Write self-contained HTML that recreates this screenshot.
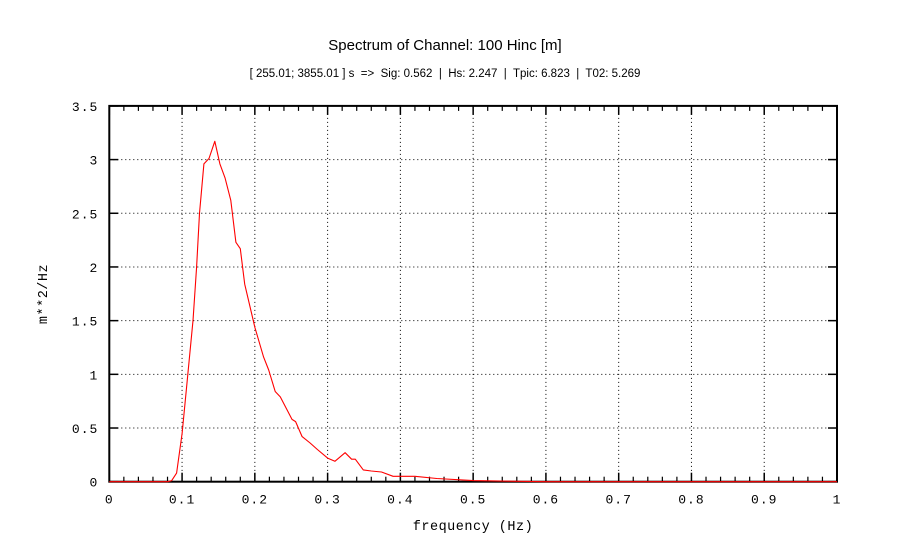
<!DOCTYPE html>
<html><head><meta charset="utf-8"><style>
body{margin:0;background:#fff;}
svg text{font-family:"Liberation Mono",monospace;}
</style></head><body>
<svg id="chart" width="905" height="536" xmlns="http://www.w3.org/2000/svg">
<text x="445" y="50" text-anchor="middle" style="font-family:'Liberation Sans',sans-serif;font-size:15px">Spectrum of Channel: 100 Hinc [m]</text>
<text x="445" y="77" text-anchor="middle" style="font-family:'Liberation Sans',sans-serif;font-size:11.5px" xml:space="preserve">[ 255.01; 3855.01 ] s  =&gt;  Sig: 0.562  |  Hs: 2.247  |  Tpic: 6.823  |  T02: 5.269</text>
<g id="grid"></g><g id="axes"></g><g id="series"></g>
<text x="473" y="530" text-anchor="middle" font-size="13.5" letter-spacing="0.5">frequency (Hz)</text>
<text x="0" y="0" text-anchor="middle" font-size="13.5" letter-spacing="0.5" transform="translate(47,294) rotate(-90)">m**2/Hz</text>
</svg>
<script>
const xTicks=[0,0.1,0.2,0.3,0.4,0.5,0.6,0.7,0.8,0.9,1];
const xTickLabels=["0","0.1","0.2","0.3","0.4","0.5","0.6","0.7","0.8","0.9","1"];
const yTicks=[0,0.5,1,1.5,2,2.5,3,3.5];
const yTickLabels=["0","0.5","1","1.5","2","2.5","3","3.5"];
const freq=[0,0.05,0.08,0.0857,0.0925,0.1,0.107,0.115,0.12,0.124,0.13,0.137,0.145,0.152,0.159,0.167,0.174,0.18,0.186,0.2,0.212,0.219,0.228,0.235,0.251,0.256,0.265,0.276,0.286,0.3,0.31,0.324,0.333,0.338,0.349,0.36,0.374,0.39,0.4,0.42,0.45,0.5,0.55,0.6,0.8,1.0];
const power=[0,0,0,0.01,0.08,0.45,0.94,1.5,2.0,2.5,2.96,3.01,3.17,2.96,2.83,2.62,2.23,2.17,1.84,1.44,1.16,1.04,0.84,0.79,0.58,0.56,0.42,0.36,0.30,0.22,0.19,0.27,0.21,0.21,0.11,0.10,0.09,0.05,0.05,0.05,0.03,0.01,0.005,0,0,0];
const L=109.3,R=837,T=105.9,B=481.7,YMAX=3.5;
const sx=v=>L+(R-L)*v, sy=v=>B-(B-T)*v/YMAX;
const NS="http://www.w3.org/2000/svg";
function mk(tag,attrs,parent){const e=document.createElementNS(NS,tag);for(const k in attrs)e.setAttribute(k,attrs[k]);parent.appendChild(e);return e;}
const grid=document.getElementById('grid'),axes=document.getElementById('axes'),series=document.getElementById('series');
xTicks.forEach((t,i)=>{
  if(i>0&&i<xTicks.length-1){const g=mk('line',{x1:sx(t),x2:sx(t),y1:T,y2:B,stroke:'#000','stroke-width':1,'stroke-dasharray':'1,3'},grid);
  
  }
  mk('line',{x1:sx(t),x2:sx(t),y1:B,y2:B-9,stroke:'#000','stroke-width':1.5},axes);
  mk('line',{x1:sx(t),x2:sx(t),y1:T,y2:T+9,stroke:'#000','stroke-width':1.5},axes);
  const lb=mk('text',{x:sx(t),y:B+22,'text-anchor':'middle','font-size':13,'letter-spacing':1},axes);
  lb.textContent=xTickLabels[i];
  
  
});
for(let v=0.02;v<1;v+=0.02){if(Math.abs(v*10-Math.round(v*10))<1e-6)continue;
  mk('line',{x1:sx(v),x2:sx(v),y1:B,y2:B-5,stroke:'#000','stroke-width':1.2},axes);
  mk('line',{x1:sx(v),x2:sx(v),y1:T,y2:T+5,stroke:'#000','stroke-width':1.2},axes);}
yTicks.forEach((t,i)=>{
  if(i>0&&i<yTicks.length-1){const g=mk('line',{x1:L,x2:R,y1:sy(t),y2:sy(t),stroke:'#000','stroke-width':1,'stroke-dasharray':'1,3'},grid);
  
  }
  mk('line',{x1:L,x2:L+9,y1:sy(t),y2:sy(t),stroke:'#000','stroke-width':1.5},axes);
  mk('line',{x1:R,x2:R-9,y1:sy(t),y2:sy(t),stroke:'#000','stroke-width':1.5},axes);
  const lb=mk('text',{x:L-11,y:sy(t)+5,'text-anchor':'end','font-size':13,'letter-spacing':1},axes);
  lb.textContent=yTickLabels[i];
  
  
});
const fr=mk('rect',{x:L,y:T,width:R-L,height:B-T,fill:'none',stroke:'#000','stroke-width':2},axes);


const d=freq.map((f,i)=>(i?'L':'M')+sx(f).toFixed(1)+','+sy(power[i]).toFixed(1)).join(' ');
const p=mk('path',{d:d,fill:'none',stroke:'#f00','stroke-width':1.1,'stroke-linejoin':'round'},series);


</script>
</body></html>
